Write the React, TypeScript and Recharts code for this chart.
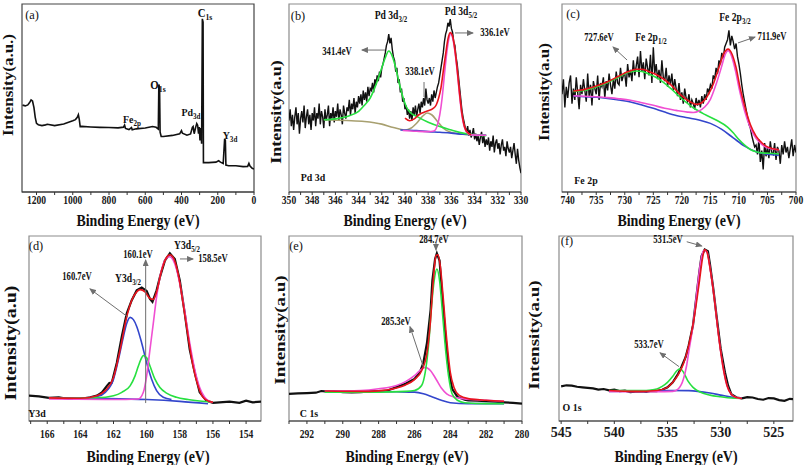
import { ComposedChart, Line, XAxis, YAxis, ReferenceArea, ReferenceLine } from 'recharts'

type Pt = [number, number]

const SERIF = '"Liberation Serif", "Times New Roman", Times, serif'
const COL = {
  data: '#111111',
  red: '#e8141c',
  green: '#27e040',
  magenta: '#f04fd2',
  blue: '#3346cc',
  olive: '#a8a070',
  frame: '#8c8c8c',
  axis: '#333333',
  arrow: '#6f6f6f',
}

// ---------- (a) survey spectrum  [binding energy, intensity 0-100]
const SURVEY: Pt[] = [
  [1277, 46.2], [1262, 45.8], [1248, 46.3], [1238, 47.6], [1230, 49.0], [1222, 48.4], [1214, 44.9],
  [1207, 39.7], [1200, 36.5], [1190, 35.8], [1170, 35.3], [1150, 35.7], [1140, 36.0], [1100, 35.3],
  [1050, 36.2], [1000, 37.9], [985, 38.5], [975, 39.7], [969, 41.1], [964, 38.6], [959, 34.8],
  [950, 34.9], [900, 34.6], [850, 34.4], [800, 34.3], [750, 34.1], [720, 34.5], [714, 35.6],
  [709, 33.8], [690, 33.2], [676, 34.3], [672, 33.1], [650, 33.6], [600, 34.0], [560, 34.8],
  [540, 34.4], [528, 33.5], [525, 57.2], [521, 55.5], [518, 31.8], [512, 29.5], [500, 29.5],
  [450, 30.1], [410, 30.9], [400, 32.6], [395, 31.3], [370, 30.2], [350, 30.9], [340, 34.4],
  [336, 34.8], [330, 31.0], [322, 34.4], [316, 36.4], [311, 35.5], [306, 31.0], [302, 34.6],
  [298, 27.4], [293, 34.0], [289, 25.7], [285, 92.1], [281, 90.4], [279, 15.6], [270, 15.6],
  [250, 15.6], [210, 15.9], [195, 16.6], [185, 15.9], [170, 15.2], [162, 28.3], [158, 27.4],
  [155, 14.3], [140, 14.0], [100, 14.0], [60, 13.5], [35, 13.6], [28, 15.2], [22, 13.8],
  [10, 12.6], [0, 12.2],
]
const A_TICKS = [1200, 1100, 1000, 900, 800, 700, 600, 500, 400, 300, 200, 100, 0]
const A_LABELS = [1200, 1000, 800, 600, 400, 200, 0]

// ---------- (b) Pd 3d  raw counts every 0.1 eV from 350 eV
const PD_START = 350
const PD_STEP = 0.1
const PD_RAW = [
  38, 44, 35, 41, 33, 40, 45, 36, 42, 31, 39,
  43, 37, 46, 34, 40, 44, 36, 41, 33, 42,
  38, 45, 35, 42, 39, 47, 36, 43, 40, 34,
  44, 38, 41, 46, 35, 42, 39, 45, 37, 43,
  40, 47, 38, 44, 41, 36, 46, 42, 39, 45,
  43, 49, 41, 47, 44, 50, 42, 48, 45, 51,
  47, 52, 46, 54, 49, 53, 48, 56, 51, 55,
  54, 58, 53, 60, 57, 62, 59, 64, 61, 66,
  68, 71, 74, 78, 80, 84, 79, 82, 76, 72,
  70, 64, 66, 58, 60, 53, 55, 48, 50, 44,
  46, 41, 44, 39, 43, 38, 45, 41, 46, 40,
  44, 47, 42, 48, 45, 50, 46, 55, 49, 47,
  50, 46, 52, 48, 54, 50, 53, 56, 58, 62,
  66, 70, 74, 80, 84, 86, 90, 88, 92, 87,
  85, 80, 78, 72, 68, 62, 56, 50, 44, 40,
  37, 34, 32, 35, 30, 33, 29, 31, 34, 28,
  31, 27, 30, 25, 29, 32, 26, 30, 24, 28,
  25, 29, 22, 27, 24, 30, 21, 26, 28, 23,
  26, 20, 25, 28, 22, 24, 19, 27, 23, 21,
  24, 18, 22, 26, 20, 15, 23, 17, 13, 10,
]
const PD_GREEN: Pt[] = [
  [347, 38.4], [346, 38.9], [345, 40.2], [344, 42.9], [343.5, 46.1], [343, 50.0], [342.5, 57.1],
  [342, 66.1], [341.7, 71.4], [341.4, 75.0], [341.1, 72.3], [340.8, 66.1], [340.5, 58.0],
  [340.2, 50.9], [339.9, 45.5], [339.5, 42.0], [339, 40.2], [338, 37.1], [337, 34.8], [336, 33.0],
  [335, 31.3], [334, 30.4], [333, 30.0],
]
const PD_OLIVE: Pt[] = [
  [347, 38.4], [345, 38.0], [343.5, 37.5], [342, 36.1], [341, 34.3], [340, 33.0], [339.5, 33.9],
  [339, 36.6], [338.5, 40.2], [338.1, 42.0], [337.7, 41.1], [337.2, 37.5], [336.7, 33.9],
  [336, 31.6], [335, 30.7], [334, 30.4], [333, 30.2],
]
const PD_BLUE: Pt[] = [
  [340.4, 33.0], [339, 32.7], [338, 32.1], [337, 31.8], [336, 31.3], [335, 30.7], [334, 30.4], [333, 30.2],
]
const PD_MAGENTA: Pt[] = [
  [340.2, 32.7], [339, 32.3], [338, 32.1], [337.5, 32.5], [337.2, 35.7], [337, 41.1], [336.8, 50.0],
  [336.6, 62.5], [336.4, 74.1], [336.2, 82.1], [336.05, 84.3], [335.9, 82.1], [335.7, 75.0],
  [335.5, 64.3], [335.3, 51.8], [335.1, 41.1], [334.9, 34.8], [334.6, 31.3], [334.3, 30.4], [333, 30.2],
]
const PD_RED: Pt[] = [
  [340, 39.3], [339.6, 37.9], [339.2, 38.9], [338.8, 41.1], [338.4, 42.3], [338, 43.2], [337.6, 44.3],
  [337.3, 46.4], [337.1, 50.0], [336.9, 55.4], [336.7, 64.3], [336.5, 73.2], [336.3, 81.3],
  [336.1, 84.8], [335.9, 83.0], [335.7, 75.9], [335.5, 65.2], [335.3, 52.7], [335.1, 42.0],
  [334.9, 35.4], [334.6, 31.6], [334.3, 30.4],
]
const B_TICKS = [350, 349, 348, 347, 346, 345, 344, 343, 342, 341, 340, 339, 338, 337, 336, 335, 334, 333, 332, 331, 330]
const B_LABELS = [350, 348, 346, 344, 342, 340, 338, 336, 334, 332, 330]

// ---------- (c) Fe 2p  raw counts every 0.25 eV from 741 eV
const FE_START = 741
const FE_STEP = 0.25
const FE_RAW = [
  52, 60, 45, 56, 50, 58, 62, 47, 55, 49, 61, 53, 44, 57, 52, 60,
  54, 48, 63, 51, 57, 46, 59, 55, 52, 62, 49, 58, 56, 61, 50, 59,
  54, 63, 57, 52, 60, 55, 64, 58, 57, 66, 59, 62, 63, 56, 68, 61,
  65, 59, 70, 62, 67, 72, 61, 75, 64, 69, 60, 71, 66, 62, 73, 58,
  77, 63, 68, 60, 65, 58, 70, 61, 59, 66, 56, 62, 57, 63, 54, 60,
  55, 51, 58, 49, 53, 47, 55, 50, 48, 52, 45, 49, 47, 44, 50, 46,
  49, 45, 51, 47, 52, 49, 55, 53, 57, 55, 62, 60, 66, 63, 70, 68,
  74, 71, 77, 79, 81, 86, 78, 83, 80, 76, 79, 72, 68, 63, 57, 52,
  48, 44, 40, 36, 34, 30, 27, 24, 25, 20, 28, 16, 22, 12, 26, 19,
  24, 18, 27, 21, 20, 26, 17, 24, 22, 15, 25, 20, 27, 21, 24, 18,
  23, 28, 19, 25, 21,
]
const FE_RED: Pt[] = [
  [739, 53.7], [737, 54.6], [735, 56.4], [733, 58.7], [731, 61.7], [729.5, 63.9], [728, 65.3],
  [727, 65.3], [726, 64.4], [724, 61.7], [722, 57.3], [720, 51.1], [718.5, 47.9], [717.5, 46.6],
  [716.5, 47.5], [715.5, 51.1], [714.5, 57.3], [713.5, 66.2], [712.7, 73.3], [711.9, 76.0],
  [711.2, 73.3], [710.5, 66.2], [709.8, 55.5], [709, 45.7], [708, 35.9], [707, 29.7], [706, 26.2],
  [705, 24.0], [704, 23.0], [703, 22.4],
]
const FE_GREEN: Pt[] = [
  [739, 53.4], [737, 54.1], [735, 55.9], [733, 58.2], [731, 61.2], [729.5, 63.5], [728, 64.4],
  [727, 64.1], [726, 63.0], [724, 60.0], [722, 55.2], [720, 49.6], [718, 44.8], [716, 41.3],
  [714, 38.3], [712, 34.5], [711, 31.5], [710, 27.9], [709, 24.9], [708, 22.6], [707, 21.4],
  [706, 20.8], [704, 20.5], [703, 20.3],
]
const FE_MAGENTA: Pt[] = [
  [739, 51.2], [737, 50.9], [735, 50.7], [733, 50.2], [731, 49.6], [729, 48.8], [727, 47.5],
  [725, 46.1], [723, 44.5], [721, 43.4], [719, 42.5], [718, 42.3], [717, 43.1], [716, 45.2],
  [715, 49.3], [714, 57.3], [713, 67.1], [712.5, 72.4], [711.9, 75.1], [711.3, 72.4], [710.6, 64.4],
  [710, 55.5], [709, 43.1], [708, 34.2], [707, 28.5], [706, 25.3], [705, 23.5], [704, 22.8], [703, 22.4],
]
const FE_BLUE: Pt[] = [
  [739, 51.1], [737, 50.7], [735, 50.4], [733, 49.8], [731, 48.9], [729, 47.9], [727, 46.3],
  [725, 44.5], [723, 42.5], [721, 40.7], [719, 39.5], [717, 38.3], [715, 36.5], [713, 33.3],
  [711, 28.8], [709, 24.4], [707, 21.4], [705, 20.1], [703, 19.6],
]
const C_TICKS = [740, 737.5, 735, 732.5, 730, 727.5, 725, 722.5, 720, 717.5, 715, 712.5, 710, 707.5, 705, 702.5, 700]
const C_LABELS = [740, 735, 730, 725, 720, 715, 710, 705, 700]

// ---------- (d) Y 3d
const Y_DATA: Pt[] = [
  [167.1, 13.7], [166.5, 13.3], [165.9, 12.5], [165.3, 12.8], [164.7, 11.9], [164.1, 11.9],
  [163.4, 12.8], [163, 13.7], [162.7, 15.5], [162.4, 19.0], [162.25, 20.5], [162.1, 20.8],
  [161.8, 31.5], [161.5, 45.7], [161.2, 58.2], [160.9, 65.3], [160.6, 70.6], [160.3, 72.1],
  [160, 70.3], [159.8, 66.0], [159.65, 64.4], [159.4, 70.6], [159.2, 77.8], [158.9, 86.7],
  [158.6, 90.6], [158.3, 87.5], [158, 76.0], [157.7, 58.2], [157.4, 38.6], [157.1, 26.2],
  [156.8, 15.5], [156.4, 11.0], [156, 9.8], [155.6, 10.1], [155, 10.5], [154.4, 9.8], [154, 11.0],
  [153.6, 10.1], [153.1, 10.5],
]
const Y_RED: Pt[] = [
  [165.9, 12.5], [164, 12.3], [163, 13.7], [162.5, 16.4], [162, 23.5], [161.6, 38.6], [161.2, 56.4],
  [160.9, 65.3], [160.6, 69.8], [160.4, 71.0], [160.1, 69.8], [159.8, 66.2], [159.6, 65.7],
  [159.4, 69.8], [159.1, 81.3], [158.8, 88.4], [158.6, 89.9], [158.4, 88.4], [158.1, 79.5],
  [157.8, 63.5], [157.5, 45.7], [157.2, 29.7], [156.9, 19.0], [156.6, 12.8], [156.2, 10.5], [156, 10.1],
]
const Y_BLUE: Pt[] = [
  [165.9, 12.5], [164, 12.3], [163, 13.2], [162.5, 15.5], [162, 22.6], [161.7, 33.3], [161.4, 45.7],
  [161.2, 52.8], [161, 56.0], [160.8, 54.8], [160.6, 51.1], [160.3, 42.2], [160, 31.5], [159.7, 22.6],
  [159.4, 16.4], [159, 12.8], [158.5, 11.6],
]
const Y_BASE: Pt[] = [[165.9, 12.5], [163, 12.2], [160, 11.6], [158, 10.6], [156.3, 9.3]]
const Y_GREEN: Pt[] = [
  [165.9, 12.3], [163, 12.6], [162, 13.7], [161.5, 15.5], [161, 19.0], [160.7, 24.4], [160.5, 29.7],
  [160.3, 34.2], [160.2, 35.4], [160, 34.2], [159.8, 29.7], [159.5, 22.6], [159.2, 18.1],
  [158.8, 15.1], [158.2, 12.8], [157.5, 11.6], [156.5, 10.5], [156, 10.1],
]
const Y_MAGENTA: Pt[] = [
  [165.9, 11.9], [162, 11.6], [160.5, 11.9], [160.2, 15.5], [160, 24.4], [159.8, 38.6], [159.6, 52.8],
  [159.4, 67.1], [159.2, 77.8], [159, 84.9], [158.8, 88.1], [158.6, 88.8], [158.4, 87.0], [158.2, 82.2],
  [158, 74.2], [157.7, 59.1], [157.4, 42.2], [157.1, 27.9], [156.8, 18.1], [156.5, 12.8], [156.2, 10.5],
  [156, 10.0],
]
const D_TICKS = [167, 166, 165, 164, 163, 162, 161, 160, 159, 158, 157, 156, 155, 154]
const D_LABELS = [166, 164, 162, 160, 158, 156, 154]

// ---------- (e) C 1s
const C1S_DATA: Pt[] = [
  [293, 14.7], [292.5, 14.9], [292, 15.1], [291.5, 15.3], [291.2, 16.2], [291, 16.0], [290.5, 16.2],
  [290, 15.6], [289.5, 15.4], [289, 15.6], [288.5, 16.0], [288, 16.0], [287.5, 16.5], [287, 18.3],
  [286.5, 20.1], [286, 22.7], [285.7, 26.3], [285.5, 31.6], [285.3, 42.3], [285.1, 60.0], [285, 76.0],
  [284.85, 87.6], [284.75, 90.6], [284.6, 86.7], [284.5, 74.2], [284.3, 49.4], [284.1, 28.1],
  [283.9, 17.4], [283.6, 13.0], [283.2, 11.5], [283, 11.2], [282.5, 11.0], [282, 10.7], [281.5, 10.5],
  [281, 10.1], [280.5, 9.8], [280, 9.4],
]
const C1S_RED: Pt[] = [
  [291, 16.2], [289, 16.0], [288, 16.3], [287, 17.8], [286.5, 19.5], [286, 22.4], [285.6, 27.2],
  [285.3, 36.9], [285.1, 54.7], [284.95, 76.0], [284.8, 89.3], [284.7, 89.9], [284.55, 83.1],
  [284.4, 67.1], [284.2, 44.0], [284, 26.3], [283.8, 18.3], [283.5, 13.9], [283, 12.1], [282, 11.2], [281, 10.7],
]
const C1S_GREEN: Pt[] = [
  [291, 15.6], [288, 15.6], [286.5, 16.0], [286, 16.5], [285.6, 19.2], [285.4, 26.3], [285.2, 42.3],
  [285.05, 61.8], [284.9, 76.0], [284.75, 82.2], [284.6, 76.0], [284.45, 60.0], [284.3, 42.3],
  [284.1, 24.5], [283.9, 14.7], [283.6, 11.2], [283.2, 9.9], [282, 9.4], [281, 9.4],
]
const C1S_MAGENTA: Pt[] = [
  [291, 16.2], [289, 16.5], [288, 17.4], [287, 19.2], [286.5, 21.3], [286, 24.5], [285.7, 27.2],
  [285.4, 29.0], [285.1, 27.2], [284.8, 22.7], [284.5, 17.8], [284.2, 14.7], [283.8, 13.0],
  [283.3, 12.1], [282, 11.2], [281, 10.7],
]
const C1S_BLUE: Pt[] = [
  [291, 16.2], [289, 16.0], [287, 15.8], [286, 15.6], [285.5, 14.7], [285, 13.0], [284.5, 11.2],
  [284, 9.9], [283, 9.4], [281, 9.4],
]
const E_TICKS = [293, 292, 291, 290, 289, 288, 287, 286, 285, 284, 283, 282, 281, 280]
const E_LABELS = [292, 290, 288, 286, 284, 282, 280]

// ---------- (f) O 1s
const O1S_DATA: Pt[] = [
  [545, 18.7], [544.5, 19.3], [544, 19.1], [543.5, 18.5], [543, 18.2], [542.5, 17.9], [542, 17.6],
  [541.5, 17.0], [541, 17.3], [540.5, 16.6], [540, 16.9], [539.5, 16.2], [539, 16.4], [538.5, 15.6],
  [538, 15.8], [537.5, 16.0], [537, 15.8], [536.5, 16.3], [536, 16.2], [535.5, 16.9], [535, 18.2],
  [534.5, 20.9], [534, 25.5], [533.7, 29.1], [533.3, 34.5], [533, 40.9], [532.6, 51.8], [532.3, 66.4],
  [532, 80.9], [531.8, 89.1], [531.5, 92.7], [531.2, 91.8], [531, 84.5], [530.7, 71.8], [530.4, 57.3],
  [530, 39.1], [529.6, 26.4], [529.3, 19.1], [529, 14.5], [528.5, 12.7], [528, 12.2], [527.5, 12.9],
  [527, 12.7], [526.5, 11.9], [526, 11.5], [525.5, 12.4], [525, 12.2], [524.5, 11.3], [524, 10.9],
  [523.5, 12.0], [523.2, 11.8],
]
const O1S_RED: Pt[] = [
  [540.5, 16.5], [538, 16.0], [536, 16.5], [535, 18.2], [534.5, 20.9], [534, 24.9], [533.5, 30.9],
  [533, 40.9], [532.5, 55.5], [532, 75.5], [531.7, 88.2], [531.5, 92.7], [531.3, 91.5], [531, 82.7],
  [530.6, 66.4], [530.2, 46.4], [529.8, 30.0], [529.4, 19.1], [529, 14.5], [528.5, 12.7], [528, 12.2],
]
const O1S_MAGENTA: Pt[] = [
  [540.5, 16.0], [536, 15.8], [534.5, 16.0], [534, 17.3], [533.5, 22.7], [533.2, 30.0], [533, 37.3],
  [532.6, 51.8], [532.2, 71.8], [531.9, 85.5], [531.6, 92.2], [531.3, 91.5], [531, 82.7], [530.6, 66.4],
  [530.2, 46.4], [529.8, 30.0], [529.4, 19.1], [529, 14.5], [528.5, 12.7], [528, 12.2],
]
const O1S_GREEN: Pt[] = [
  [540.5, 16.4], [537, 16.5], [536, 17.3], [535.5, 18.7], [535, 20.9], [534.5, 24.2], [534.1, 27.3],
  [533.8, 28.2], [533.5, 26.4], [533.1, 21.8], [532.6, 18.2], [532, 15.8], [531, 14.0], [530, 13.1],
  [529, 12.4], [528, 12.2],
]
const O1S_BLUE: Pt[] = [
  [540.5, 16.0], [537, 16.2], [535, 16.5], [533, 16.4], [531, 15.1], [530, 14.0], [529, 12.9], [528, 12.4],
]
const F_TICKS = [545, 542.5, 540, 537.5, 535, 532.5, 530, 527.5, 525]
const F_LABELS = [545, 540, 535, 530, 525]

const fromRaw = (start: number, step: number, raw: number[]): Pt[] =>
  raw.map((v, i) => [+(start - i * step).toFixed(2), v])

const rows = (pts: Pt[]) => pts.map(([e, v]) => ({ e, v }))

type Series = { pts: Pt[]; color: string; width?: number; smooth?: boolean }
type Arrow = { from: Pt; to: Pt; head?: boolean }

// side padding so the end tick labels are not clipped
const PAD = 16

function Panel(props: {
  left: number
  top: number
  w: number
  h: number
  domain: [number, number]
  ticks: number[]
  labeled: number[]
  series: Series[]
  arrows?: Arrow[]
  tickFont?: number
  tickSx?: number
  tickGap: number
  frame?: string
}) {
  const { left, top, w, h, domain, ticks, labeled, series, arrows = [], tickFont = 12, tickSx = 0.8, tickGap, frame = COL.frame } = props

  const renderTick = (p: any) => {
    const v = p.payload?.value
    if (!labeled.includes(v)) return <g />
    return (
      <text
        transform={`translate(${p.x},${p.y + tickFont * 0.68}) scale(${tickSx},1)`}
        textAnchor="middle"
        fontFamily={SERIF}
        fontWeight="bold"
        fontSize={tickFont}
        fill="#1a1a1a"
      >
        {v}
      </text>
    )
  }

  return (
    <div style={{ position: 'absolute', left: left - PAD, top: top - 1 }}>
      <ComposedChart width={w + 2 * PAD} height={h + 31} margin={{ top: 1, right: PAD, left: PAD, bottom: 0 }}>
        <XAxis
          type="number"
          dataKey="e"
          domain={domain}
          reversed
          allowDataOverflow
          ticks={ticks}
          interval={0}
          height={30}
          tickSize={3}
          tickMargin={tickGap}
          tick={renderTick}
          axisLine={{ stroke: COL.axis, strokeWidth: 1.2 }}
          tickLine={{ stroke: COL.axis }}
        />
        <YAxis type="number" domain={[0, 100]} hide allowDataOverflow />
        <ReferenceArea
          x1={domain[0]}
          x2={domain[1]}
          y1={0}
          y2={100}
          fill="none"
          stroke={frame}
          strokeWidth={1.2}
          ifOverflow="visible"
        />
        {series.map((s, i) => (
          <Line
            key={i}
            data={rows(s.pts)}
            dataKey="v"
            type={s.smooth ? 'monotone' : 'linear'}
            stroke={s.color}
            strokeWidth={s.width ?? 1.5}
            dot={false}
            activeDot={false}
            isAnimationActive={false}
          />
        ))}
        {arrows.map((a, i) => (
          <ReferenceLine
            key={'ar' + i}
            segment={[{ x: a.from[0], y: a.from[1] }, { x: a.to[0], y: a.to[1] }]}
            ifOverflow="visible"
            shape={(p: any) => (
              <line
                x1={p.x1}
                y1={p.y1}
                x2={p.x2}
                y2={p.y2}
                stroke={COL.arrow}
                strokeWidth={1}
                markerEnd={a.head === false ? undefined : 'url(#ah)'}
              />
            )}
          />
        ))}
      </ComposedChart>
    </div>
  )
}

function T(props: { x: number; y: number; size: number; sx?: number; bold?: boolean; rot?: boolean; children: any }) {
  const { x, y, size, sx = 0.78, bold = true, rot, children } = props
  return (
    <div
      style={{
        position: 'absolute',
        left: x,
        top: y,
        transform: rot ? `translate(-50%,-50%) rotate(-90deg) scaleY(${sx})` : `translate(-50%,-50%) scaleX(${sx})`,
        fontFamily: SERIF,
        fontWeight: bold ? 700 : 400,
        fontSize: size,
        lineHeight: 1,
        whiteSpace: 'nowrap',
        color: '#111',
      }}
    >
      {children}
    </div>
  )
}

const Sub = ({ children }: { children: any }) => (
  <span style={{ fontSize: '0.72em', position: 'relative', top: '0.35em' }}>{children}</span>
)

const fit = (pts: Pt[], color: string): Series => ({ pts, color, width: 1.6, smooth: true })

export default function App() {
  const pdRaw = fromRaw(PD_START, PD_STEP, PD_RAW)
  const feRaw = fromRaw(FE_START, FE_STEP, FE_RAW)
  const row1Title = 220
  const row2Title = 456

  return (
    <div style={{ position: 'absolute', left: 0, top: 0, width: 805, height: 465, background: '#fff', overflow: 'hidden' }}>
      <svg width={0} height={0} style={{ position: 'absolute' }}>
        <defs>
          <marker id="ah" markerWidth={7} markerHeight={6} refX={6} refY={3} orient="auto" markerUnits="userSpaceOnUse">
            <path d="M0,0 L7,3 L0,6 z" fill={COL.arrow} />
          </marker>
        </defs>
      </svg>

      {/* (a) survey */}
      <Panel
        left={22} top={4} w={232} h={188}
        domain={[0, 1280]} ticks={A_TICKS} labeled={A_LABELS} tickGap={1}
        frame="#444"
        series={[{ pts: SURVEY, color: COL.data, width: 1.6 }]}
      />
      <T x={32} y={14} size={13} bold={false} sx={0.95}>(a)</T>
      <T x={205} y={13} size={12} sx={0.9}>C<Sub>1s</Sub></T>
      <T x={158} y={85} size={12} sx={0.9}>O<Sub>1s</Sub></T>
      <T x={132} y={119} size={11} sx={0.9}>Fe<Sub>2p</Sub></T>
      <T x={191} y={112} size={11} sx={0.9}>Pd<Sub>3d</Sub></T>
      <T x={230} y={135} size={11} sx={0.9}>Y<Sub>3d</Sub></T>
      <T x={9} y={85} size={17} rot sx={0.8}>Intensity(a.u.)</T>
      <T x={138} y={row1Title} size={17} sx={0.82}>Binding Energy (eV)</T>

      {/* (b) Pd 3d */}
      <Panel
        left={289} top={4} w={232} h={188}
        domain={[330, 350]} ticks={B_TICKS} labeled={B_LABELS} tickGap={1}
        series={[
          { pts: pdRaw, color: COL.data, width: 1.4 },
          fit(PD_OLIVE, COL.olive),
          fit(PD_BLUE, COL.blue),
          fit(PD_GREEN, COL.green),
          fit(PD_MAGENTA, COL.magenta),
          fit(PD_RED, COL.red),
        ]}
        arrows={[
          { from: [341.72, 75.5], to: [343.71, 75.5] },
          { from: [335.69, 84.6], to: [334.14, 84.6] },
          { from: [338.36, 50.5], to: [338.36, 58.5], head: false },
        ]}
      />
      <T x={298} y={15} size={13} bold={false} sx={0.95}>(b)</T>
      <T x={391} y={15} size={12} sx={0.8}>Pd 3d<Sub>3/2</Sub></T>
      <T x={461} y={11} size={12} sx={0.8}>Pd 3d<Sub>5/2</Sub></T>
      <T x={337} y={52} size={11.5} sx={0.75}>341.4eV</T>
      <T x={420} y={72} size={11.5} sx={0.75}>338.1eV</T>
      <T x={495} y={33} size={11.5} sx={0.75}>336.1eV</T>
      <T x={313} y={177} size={11} sx={0.9}>Pd 3d</T>
      <T x={276} y={112} size={18} rot sx={0.8}>Intensity(a.u)</T>
      <T x={405} y={row1Title} size={17} sx={0.82}>Binding Energy (eV)</T>

      {/* (c) Fe 2p */}
      <Panel
        left={562} top={4} w={234} h={188}
        domain={[700, 741]} ticks={C_TICKS} labeled={C_LABELS} tickGap={1}
        series={[
          { pts: feRaw, color: COL.data, width: 1.4 },
          fit(FE_BLUE, COL.blue),
          fit(FE_GREEN, COL.green),
          fit(FE_MAGENTA, COL.magenta),
          fit(FE_RED, COL.red),
        ]}
        arrows={[
          { from: [729.6, 70.2], to: [732.06, 77.1] },
          { from: [710.16, 79.3], to: [707.18, 82.4] },
        ]}
      />
      <T x={573} y={13} size={13} bold={false} sx={0.95}>(c)</T>
      <T x={651} y={37} size={12} sx={0.8}>Fe 2p<Sub>1/2</Sub></T>
      <T x={599} y={38} size={11.5} sx={0.75}>727.6eV</T>
      <T x={735} y={17} size={12} sx={0.8}>Fe 2p<Sub>3/2</Sub></T>
      <T x={772} y={37} size={11.5} sx={0.75}>711.9eV</T>
      <T x={586} y={180} size={11} sx={0.9}>Fe 2p</T>
      <T x={545} y={92} size={17} rot sx={0.8}>Intensity(a.u)</T>
      <T x={679} y={row1Title} size={17} sx={0.82}>Binding Energy (eV)</T>

      {/* (d) Y 3d */}
      <Panel
        left={29} top={236} w={232} h={185}
        domain={[153.1, 167.1]} ticks={D_TICKS} labeled={D_LABELS} tickGap={6}
        series={[
          { pts: Y_DATA, color: COL.data, width: 2.2 },
          fit(Y_BASE, COL.blue),
          fit(Y_BLUE, COL.blue),
          fit(Y_GREEN, COL.green),
          fit(Y_MAGENTA, COL.magenta),
          fit(Y_RED, COL.red),
        ]}
        arrows={[
          { from: [160.06, 9.7], to: [160.06, 87] },
          { from: [157.99, 87.6], to: [157.2, 87.6] },
          { from: [161.13, 56.2], to: [163.42, 71.4] },
        ]}
      />
      <T x={36} y={245} size={13} bold={false} sx={0.95}>(d)</T>
      <T x={187} y={245} size={12} sx={0.8}>Y3d<Sub>5/2</Sub></T>
      <T x={138} y={255} size={11.5} sx={0.75}>160.1eV</T>
      <T x={213} y={259} size={11.5} sx={0.75}>158.5eV</T>
      <T x={128} y={278} size={12} sx={0.8}>Y3d<Sub>3/2</Sub></T>
      <T x={77} y={277} size={11.5} sx={0.75}>160.7eV</T>
      <T x={37} y={413} size={11} sx={0.9}>Y3d</T>
      <T x={10} y={343} size={20} rot sx={0.8}>Intensity(a.u)</T>
      <T x={148} y={row2Title} size={17} sx={0.82}>Binding Energy (eV)</T>

      {/* (e) C 1s */}
      <Panel
        left={289} top={236} w={233} h={185}
        domain={[280, 293]} ticks={E_TICKS} labeled={E_LABELS} tickGap={6}
        series={[
          { pts: C1S_DATA, color: COL.data, width: 2.2 },
          fit(C1S_BLUE, COL.blue),
          fit(C1S_MAGENTA, COL.magenta),
          fit(C1S_GREEN, COL.green),
          fit(C1S_RED, COL.red),
        ]}
        arrows={[
          { from: [284.8, 96.5], to: [284.8, 92.5] },
          { from: [285.51, 29.4], to: [286.25, 51] },
        ]}
      />
      <T x={296} y={245} size={13} bold={false} sx={0.95}>(e)</T>
      <T x={434} y={240} size={11.5} sx={0.75}>284.7eV</T>
      <T x={396} y={322} size={11.5} sx={0.75}>285.3eV</T>
      <T x={309} y={413} size={11} sx={0.9}>C 1s</T>
      <T x={280} y={330} size={19} rot sx={0.8}>Intensity(a.u)</T>
      <T x={407} y={row2Title} size={17} sx={0.82}>Binding Energy (eV)</T>

      {/* (f) O 1s */}
      <Panel
        left={559} top={236} w={234} h={185}
        domain={[523.2, 545.2]} ticks={F_TICKS} labeled={F_LABELS} tickGap={3}
        tickFont={14} tickSx={1}
        series={[
          { pts: O1S_DATA, color: COL.data, width: 2.2 },
          fit(O1S_BLUE, COL.blue),
          fit(O1S_GREEN, COL.green),
          fit(O1S_MAGENTA, COL.magenta),
          fit(O1S_RED, COL.red),
        ]}
        arrows={[
          { from: [533.19, 96.9], to: [531.78, 94.6] },
          { from: [533.92, 29.4], to: [535.7, 36.9] },
        ]}
      />
      <T x={567} y={240} size={13} bold={false} sx={0.95}>(f)</T>
      <T x={668} y={240} size={11.5} sx={0.75}>531.5eV</T>
      <T x={649} y={345} size={11.5} sx={0.75}>533.7eV</T>
      <T x={572} y={407} size={11} sx={0.9}>O 1s</T>
      <T x={534} y={335} size={19} rot sx={0.8}>Intensity(a.u)</T>
      <T x={676} y={row2Title} size={17} sx={0.82}>Binding Energy (eV)</T>
    </div>
  )
}
